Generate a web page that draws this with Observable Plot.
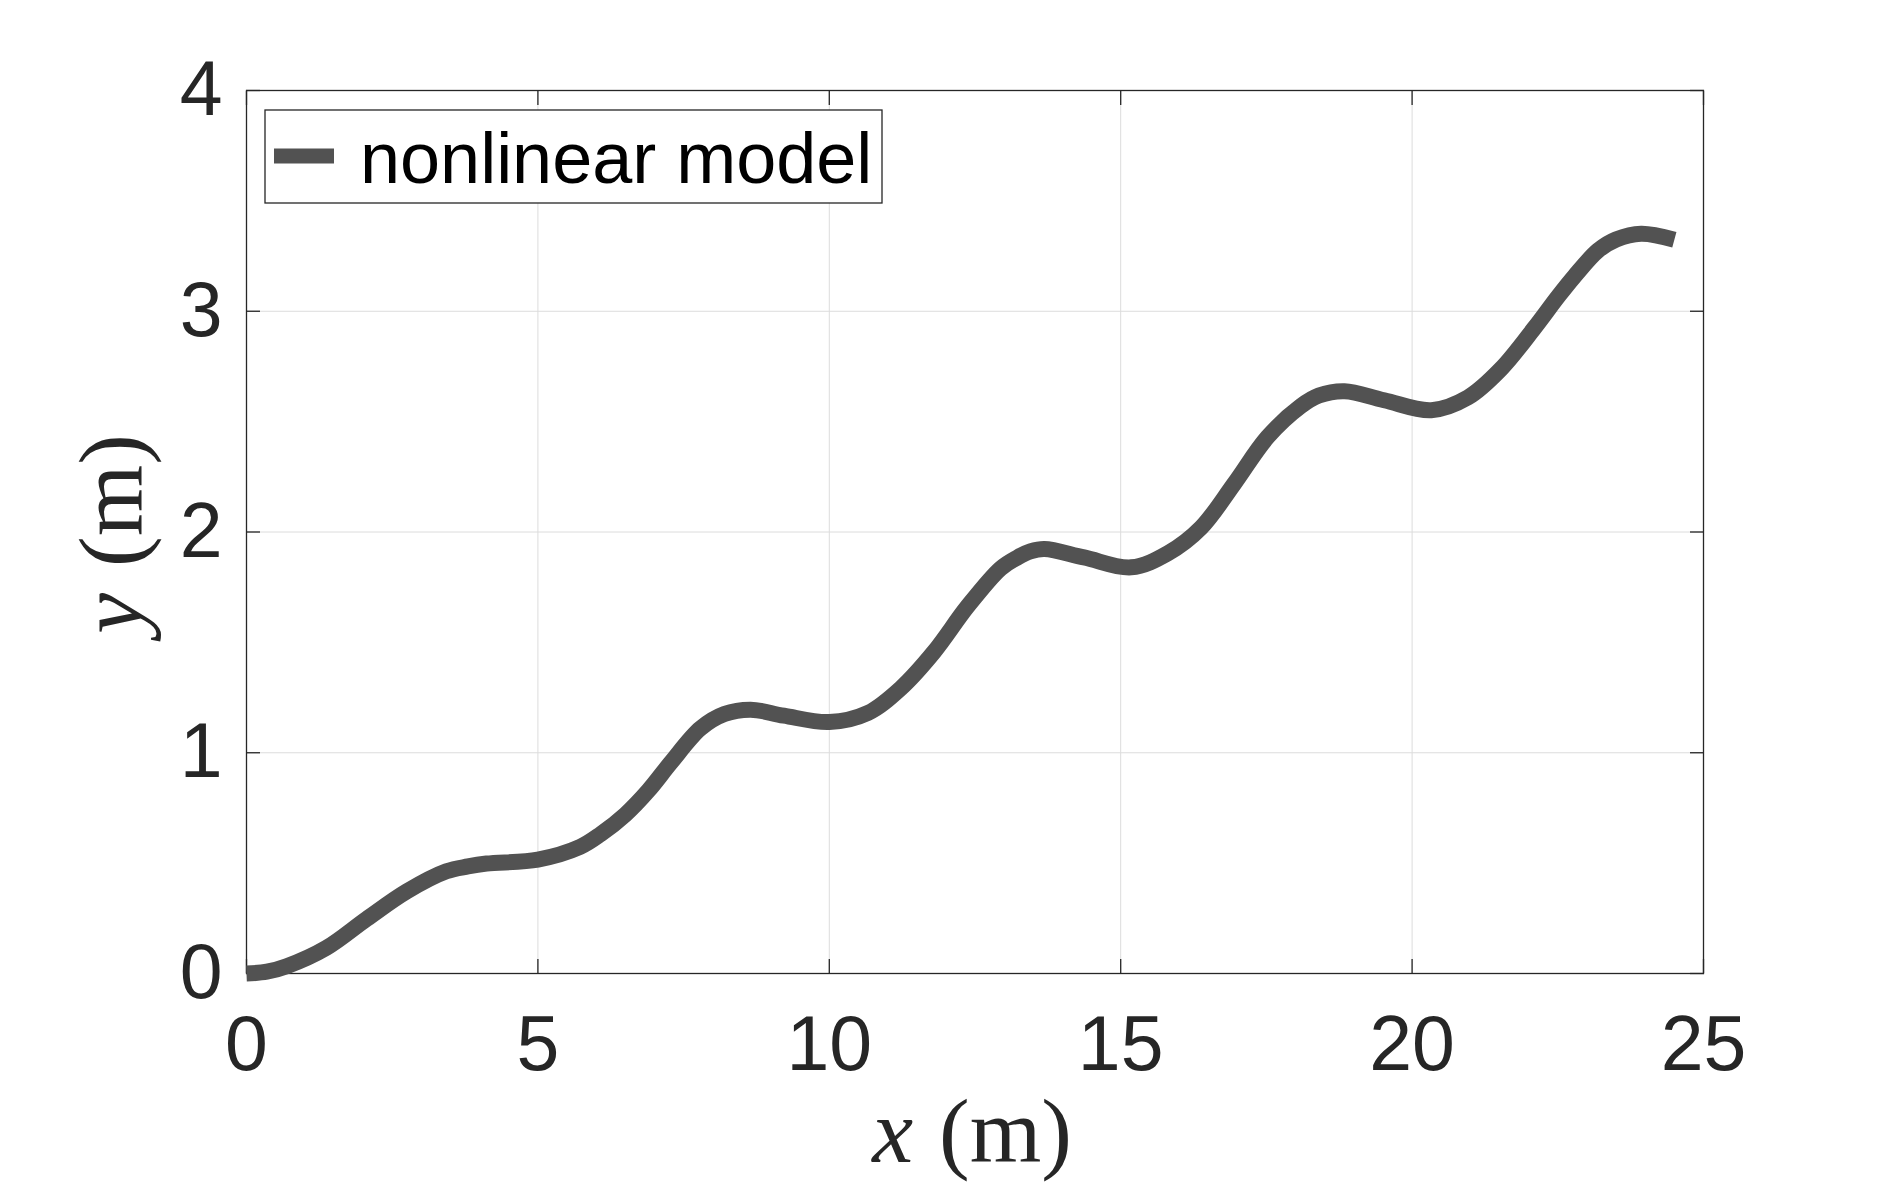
<!DOCTYPE html>
<html>
<head>
<meta charset="utf-8">
<script src="https://cdn.jsdelivr.net/npm/d3@7"></script>
<script src="https://cdn.jsdelivr.net/npm/@observablehq/plot@0.6"></script>
<style>
  html, body { margin: 0; padding: 0; background: #fff; }
  #chart { width: 1882px; height: 1196px; }
</style>
</head>
<body>
<div id="chart"></div>
<script>
// Data
const xValues = [0, 0.35, 0.69, 1.37, 2.06, 2.75, 3.43, 3.8, 4.12, 5.0, 5.72, 6.08, 6.5, 6.9, 7.28, 7.79, 8.2, 8.65, 9.22, 10.0, 10.66, 11.23, 11.8, 12.37, 12.94, 13.23, 13.45, 13.69, 14.37, 15.18, 15.81, 16.38, 16.95, 17.52, 18.09, 18.4, 18.84, 19.52, 20.33, 20.96, 21.53, 22.1, 22.5, 22.79, 23.19, 23.5, 23.93, 24.5];
const yValues = [0, 0.008, 0.033, 0.116, 0.247, 0.372, 0.463, 0.485, 0.498, 0.516, 0.573, 0.632, 0.72, 0.83, 0.955, 1.11, 1.175, 1.195, 1.168, 1.139, 1.18, 1.293, 1.458, 1.662, 1.835, 1.885, 1.912, 1.923, 1.885, 1.84, 1.904, 2.02, 2.22, 2.43, 2.57, 2.618, 2.638, 2.597, 2.552, 2.61, 2.74, 2.925, 3.065, 3.16, 3.275, 3.325, 3.351, 3.324];
const xTicks = [0, 5, 10, 15, 20, 25];
const yTicks = [0, 1, 2, 3, 4];
const seriesName = "nonlinear model";
const xLabelVar = "x";
const yLabelVar = "y";
const unitLabel = "(m)";

const data = xValues.map((x, i) => ({x, y: yValues[i]}));

const axisColor = "#262626";
const lineColor = "#525252";
const sansFont = "'Liberation Sans', Arial, Helvetica, sans-serif";
const serifFont = "'Liberation Serif', 'Times New Roman', serif";

const svg = Plot.plot({
  width: 1882,
  height: 1196,
  marginLeft: 246,
  marginRight: 179,
  marginTop: 90,
  marginBottom: 223,
  style: {fontFamily: sansFont, color: axisColor, background: "#fff", overflow: "visible"},
  x: {domain: [0, 25]},
  y: {domain: [0, 4]},
  marks: [
    Plot.gridX(xTicks, {stroke: "#dcdcdc", strokeOpacity: 1, strokeWidth: 1}),
    Plot.gridY(yTicks, {stroke: "#dcdcdc", strokeOpacity: 1, strokeWidth: 1}),
    Plot.axisX(xTicks, {anchor: "bottom", tickSize: 0, tickPadding: 42, fontSize: 77, fill: axisColor, label: null, tickFormat: d => String(d)}),
    Plot.axisY(yTicks, {anchor: "left", tickSize: 0, tickPadding: 24, fontSize: 77, fill: axisColor, label: null, tickFormat: d => String(d)}),
    Plot.axisX(xTicks, {anchor: "bottom", tickSize: 14, dy: -14, fill: "none", stroke: axisColor, strokeWidth: 1.3, label: null}),
    Plot.axisX(xTicks, {anchor: "top", tickSize: 14, dy: 14, fill: "none", stroke: axisColor, strokeWidth: 1.3, label: null}),
    Plot.axisY(yTicks, {anchor: "left", tickSize: 14, dx: 14, fill: "none", stroke: axisColor, strokeWidth: 1.3, label: null}),
    Plot.axisY(yTicks, {anchor: "right", tickSize: 14, dx: -14, fill: "none", stroke: axisColor, strokeWidth: 1.3, label: null}),
    Plot.frame({stroke: axisColor, strokeWidth: 1.3}),
    Plot.line(data, {x: "x", y: "y", stroke: lineColor, strokeWidth: 16, strokeLinecap: "butt", strokeLinejoin: "round", curve: "catmull-rom"})
  ]
});

document.getElementById("chart").appendChild(svg);

const s = d3.select(svg);

// Axis titles (LaTeX-like serif)
const xt = s.append("text")
  .attr("x", 972).attr("y", 1162)
  .attr("text-anchor", "middle")
  .attr("font-family", serifFont).attr("font-size", 92).attr("fill", axisColor);
xt.append("tspan").attr("font-style", "italic").text(xLabelVar);
xt.append("tspan").attr("dx", 26).text(unitLabel);

const yt = s.append("text")
  .attr("transform", "translate(142,534) rotate(-90)")
  .attr("text-anchor", "middle")
  .attr("font-family", serifFont).attr("font-size", 92).attr("fill", axisColor);
yt.append("tspan").attr("font-style", "italic").text(yLabelVar);
yt.append("tspan").attr("dx", 26).text(unitLabel);

// Legend
const lg = s.append("g");
lg.append("rect").attr("x", 265).attr("y", 110).attr("width", 617).attr("height", 93)
  .attr("fill", "#fff").attr("stroke", axisColor).attr("stroke-width", 1.3);
lg.append("line").attr("x1", 274).attr("x2", 334).attr("y1", 156).attr("y2", 156)
  .attr("stroke", lineColor).attr("stroke-width", 15);
lg.append("text").attr("x", 360).attr("y", 183)
  .attr("text-anchor", "start")
  .attr("font-family", sansFont).attr("font-size", 72).attr("fill", "#000")
  .text(seriesName);
</script>
</body>
</html>
